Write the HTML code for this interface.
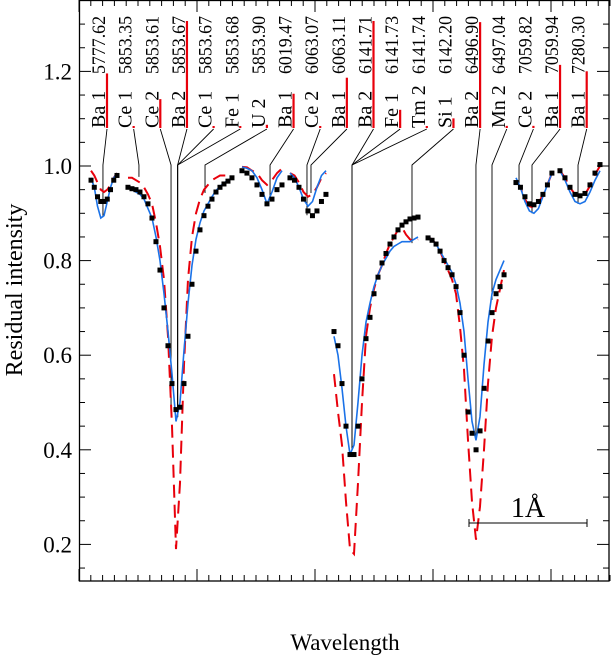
<!DOCTYPE html>
<html><head><meta charset="utf-8">
<style>
html,body{margin:0;padding:0;background:#fff;}
svg, svg text{font-family:"Liberation Serif","Times New Roman",serif;}
</style></head>
<body>
<svg id="chart" width="611" height="660" viewBox="0 0 611 660" xmlns="http://www.w3.org/2000/svg" font-family="Liberation Serif, serif">
<rect x="0" y="0" width="611" height="660" fill="#fff"/>
<g id="marks"></g>
<text x="345" y="650" font-size="23" font-family="Liberation Serif, serif" text-anchor="middle">Wavelength</text>
<text transform="translate(22,290) rotate(-90)" font-size="24" font-family="Liberation Serif, serif" text-anchor="middle">Residual intensity</text>
</svg>
<script>
// ---- data ----
const segStart = [0.102, 0.415, 1.381, 1.788, 2.161, 2.958, 3.703, 4.076];
const segStep  = [0.0275, 0.0339, 0.0424, 0.0381, 0.0339, 0.0339, 0.0381, 0.0424];
const obsValues = [
 [0.97,0.955,0.935,0.925,0.925,0.93,0.95,0.97,0.98],
 [0.955,0.952,0.95,0.945,0.935,0.92,0.89,0.84,0.78,0.70,0.62,0.54,0.485,0.49,0.54,0.64,0.75,0.82,0.865,0.895,0.915,0.93,0.945,0.955,0.962,0.968,0.975],
 [0.99,0.985,0.975,0.96,0.94,0.92,0.93,0.95,0.96],
 [0.975,0.97,0.955,0.93,0.905,0.895,0.905,0.925,0.94],
 [0.65,0.62,0.54,0.45,0.39,0.39,0.45,0.55,0.635,0.68,0.73,0.765,0.795,0.815,0.835,0.85,0.865,0.875,0.882,0.888,0.89,0.892],
 [0.848,0.843,0.835,0.82,0.80,0.785,0.77,0.745,0.69,0.60,0.48,0.435,0.40,0.44,0.53,0.63,0.69,0.73,0.745,0.77],
 [0.965,0.955,0.935,0.92,0.918,0.925,0.94,0.96,0.985],
 [0.99,0.975,0.955,0.94,0.937,0.942,0.96,0.985,1.003]
];
const blueValues = [
 [0.975,0.955,0.915,0.89,0.895,0.925,0.955,0.975,0.985],
 [0.955,0.95,0.945,0.94,0.93,0.91,0.89,0.85,0.80,0.73,0.65,0.56,0.46,0.50,0.61,0.71,0.79,0.845,0.88,0.905,0.92,0.935,0.948,0.957,0.964,0.97,0.975],
 [0.998,0.995,0.99,0.975,0.95,0.92,0.945,0.975,0.99],
 [0.985,0.975,0.955,0.93,0.915,0.925,0.955,0.98,0.99],
 [0.64,0.60,0.53,0.45,0.39,0.41,0.50,0.60,0.67,0.71,0.745,0.77,0.79,0.805,0.82,0.83,0.835,0.84,0.84,0.84,0.845,0.85],
 [0.85,0.845,0.835,0.82,0.805,0.79,0.775,0.75,0.71,0.65,0.55,0.46,0.42,0.47,0.58,0.67,0.73,0.76,0.78,0.80],
 [0.975,0.955,0.925,0.905,0.90,0.91,0.935,0.96,0.985],
 [0.99,0.97,0.945,0.925,0.92,0.925,0.945,0.97,0.99]
];
const redValues = [
 [0.99,0.98,0.965,0.95,0.945,0.95,0.96,0.975,0.985],
 [0.975,0.975,0.97,0.965,0.955,0.94,0.92,0.88,0.83,0.76,0.64,0.45,0.19,0.33,0.58,0.76,0.85,0.90,0.93,0.95,0.96,0.97,0.975,0.98,0.98,0.98,0.98],
 [0.998,0.997,0.99,0.985,0.97,0.96,0.97,0.985,0.995],
 [0.985,0.98,0.965,0.945,0.935,0.94,0.955,0.975,0.985],
 [0.56,0.48,0.41,0.29,0.19,0.18,0.33,0.50,0.64,0.70,0.74,0.77,0.79,0.815,0.835,0.85,0.865,0.87,0.855,0.845,0.84,0.845],
 [0.85,0.845,0.835,0.82,0.80,0.78,0.76,0.73,0.66,0.57,0.42,0.29,0.21,0.28,0.40,0.54,0.64,0.70,0.74,0.78],
 [0.97,0.955,0.93,0.915,0.912,0.92,0.94,0.96,0.985],
 [0.99,0.975,0.955,0.94,0.935,0.94,0.958,0.982,1.0]
];
const lineNames = ["Ba 1","Ce 1","Ce 2","Ba 2","Ce 1","Fe 1","U 2","Ba 1","Ce 2","Ba 1","Ba 2","Fe 1","Tm 2","Si 1","Ba 2","Mn 2","Ce 2","Ba 1","Ba 1"];
const lineWaves = ["5777.62","5853.35","5853.61","5853.67","5853.67","5853.68","5853.90","6019.47","6063.07","6063.11","6141.71","6141.73","6141.74","6142.20","6496.90","6497.04","7059.82","7059.94","7280.30"];
const lineStrength = [0.51,0.01,0.27,1.0,0.01,0.01,0.03,0.32,0.01,0.47,1.0,0.17,0.01,0.09,0.99,0.02,0.02,0.59,0.53];
const linePos = [0.203,0.508,0.78,0.836,0.836,0.836,1.068,1.619,1.932,1.966,2.314,2.314,2.314,2.822,3.364,3.5,3.729,3.839,4.229];
const lineDepth = [0.892,0.977,0.484,0.469,0.469,0.469,0.943,0.928,0.896,0.943,0.40,0.40,0.40,0.837,0.42,0.717,0.964,0.90,0.92];
const yTickLabels = ["0.2","0.4","0.6","0.8","1.0","1.2"];

// ---- axes ----
const X = l => 79 + l*118;
const Y = v => 166 + (1-v)*473;
const NS = "http://www.w3.org/2000/svg";
const FONT = "Liberation Serif, serif";
const g = document.getElementById('marks');
function mk(tag, attrs, parent){ const e=document.createElementNS(NS,tag); for(const k in attrs) e.setAttribute(k,attrs[k]); (parent||g).appendChild(e); return e; }

const fr = mk('rect',{x:79.5,y:0.5,width:529.5,height:580.5,fill:'none',stroke:'#000','stroke-width':1.3});



for(let i=3;i<=27;i++){
  const v=i*0.05, y=Y(v), major=(i%4===0);
  const len=major?12:6;
  const t1=mk('line',{x1:79,x2:79+len,y1:y,y2:y,stroke:'#000','stroke-width':1});
  
  
  const t2=mk('line',{x1:609,x2:609-len,y1:y,y2:y,stroke:'#000','stroke-width':1});
  
  
}
yTickLabels.forEach(s=>{
  const t=mk('text',{x:72,y:Y(parseFloat(s))+8,'font-size':23,'font-family':FONT,'text-anchor':'end'});
  t.textContent=s;
  
  
});
for(let i=0;i<=45;i++){
  const x=X(i*0.1), major=(i%10===0), len=major?12:6;
  const b=mk('line',{x1:x,x2:x,y1:581,y2:581-len,stroke:'#000','stroke-width':1});
  
  
  const t=mk('line',{x1:x,x2:x,y1:0,y2:len,stroke:'#000','stroke-width':1});
  
  
}

lineNames.forEach((nm,i)=>{
  const cx=98+26.65*i, bx=cx+9;
  const lg=mk('g',{});
  
  
  const t1=mk('text',{transform:`translate(${cx+7},128) rotate(-90)`,'font-size':20,'font-family':FONT},lg);
  t1.textContent=nm;
  
  
  const t2=mk('text',{transform:`translate(${cx+7},74) rotate(-90)`,'font-size':19,'font-family':FONT,textLength:58,lengthAdjust:'spacingAndGlyphs'},lg);
  t2.textContent=lineWaves[i];
  
  
  const h=Math.max(2,lineStrength[i]*107);
  const r=mk('line',{x1:bx,x2:bx,y1:128,y2:128-h,stroke:'#e8000b','stroke-width':2.2},lg);
  
  
  const px=X(linePos[i]);
  const c=mk('polyline',{points:`${bx},129 ${px},165 ${px},${Y(lineDepth[i])}`,fill:'none',stroke:'#000','stroke-width':0.9},lg);
  
  
});

function pts(si, arr){ return arr.map((v,j)=>`${X(segStart[si]+j*segStep[si]).toFixed(1)},${Y(v).toFixed(1)}`).join(' '); }
segStart.forEach((s,si)=>{
  const red=mk('polyline',{points:pts(si,redValues[si]),fill:'none',stroke:'#e8000b','stroke-width':2,'stroke-dasharray':'13,7'});
  
  
  const blue=mk('polyline',{points:pts(si,blueValues[si]),fill:'none',stroke:'#1a72e8','stroke-width':1.6});
  
  
  obsValues[si].forEach((v,j)=>{
    const x=X(segStart[si]+j*segStep[si]), y=Y(v);
    const p=mk('rect',{x:x-2.5,y:y-2.5,width:5,height:5,fill:'#000'});
    
    
  });
});

const sb=mk('g',{});


mk('line',{x1:469,x2:587,y1:523,y2:523,stroke:'#000','stroke-width':1},sb);
mk('line',{x1:469,x2:469,y1:519,y2:527,stroke:'#000','stroke-width':1},sb);
mk('line',{x1:587,x2:587,y1:519,y2:527,stroke:'#000','stroke-width':1},sb);
const st=mk('text',{x:528,y:517,'font-size':28,'font-family':FONT,'text-anchor':'middle'},sb);
st.textContent='1Å';


</script>
</body></html>
